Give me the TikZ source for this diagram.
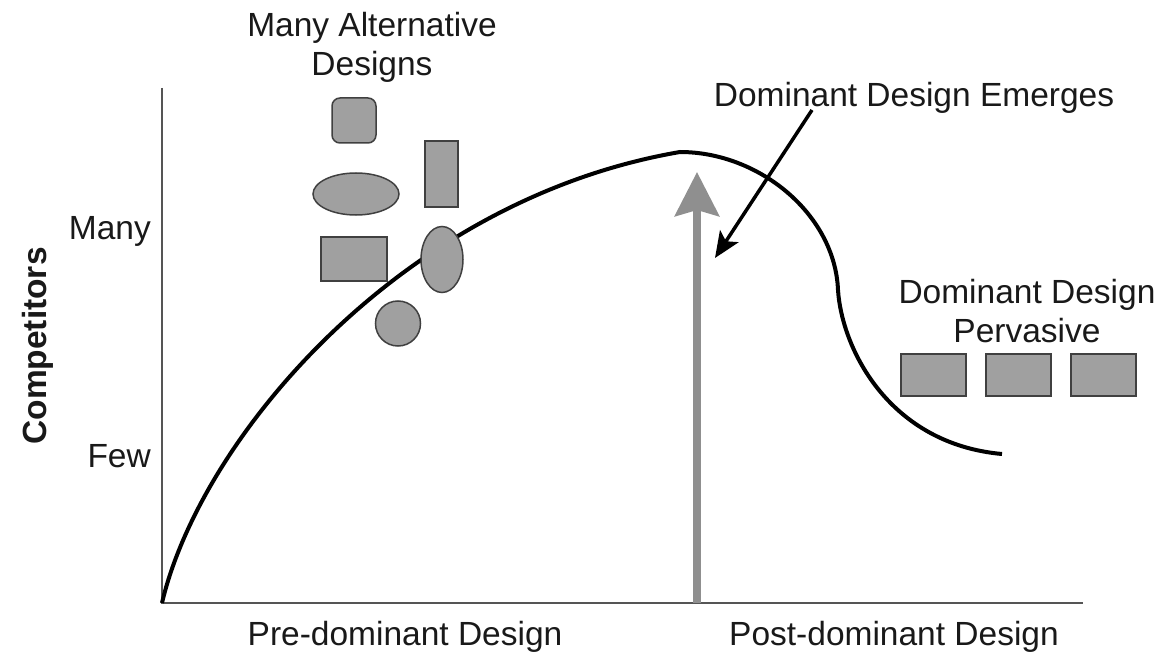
\documentclass[tikz,border=0pt]{standalone}
\usepackage{fontspec}
\setmainfont{Liberation Sans}
\usetikzlibrary{arrows.meta,shapes.geometric}
\definecolor{shapefill}{HTML}{A0A0A0}
\definecolor{shapeline}{HTML}{404040}
\definecolor{axisgray}{HTML}{555555}
\definecolor{arrowgray}{HTML}{8F8F8F}
\begin{document}
\begin{tikzpicture}[x=1pt,y=-1pt,
  lbl/.style={font=\fontsize{33.5}{39}\selectfont, inner sep=0pt, align=center, anchor=base, text=black!90},
  shp/.style={draw=shapeline, fill=shapefill, line width=1.5pt, inner sep=0pt},
  rbox/.style={shp, rectangle, minimum width=#1},
  axisline/.style={draw=axisgray, line width=2.2pt},
  curveline/.style={draw=black, line width=4pt},
]
\useasboundingbox (0,0) rectangle (1163,658);
% axes
\coordinate (O) at (162,603);
\coordinate (ytop) at (162,88);
\coordinate (xend) at (1083,603);
\draw[axisline] (ytop) -- (O) -- (xend);
% curve
\coordinate (peak) at (680,152);
\coordinate (infl) at (838,290);
\coordinate (cend) at (1002,454);
\draw[curveline] (O) .. controls (200,440) and (400,200) .. (peak)
  .. controls (760,152) and (835,215) .. (infl)
  .. controls (842,350) and (890,444) .. (cend);
% gray arrow
\coordinate (gbot) at (697,603);
\coordinate (gtop) at (697,172);
\draw[arrowgray, line width=8pt, -{Stealth[length=44pt,width=44pt,inset=6pt]}] (gbot) -- (gtop);
% black arrow
\coordinate (bstart) at (812,110);
\coordinate (btip) at (715,258);
\draw[black, line width=3.5pt, -{Stealth[length=26pt,width=22pt,inset=6pt]}] (bstart) -- (btip);
% alternative designs
\node[shp, rectangle, rounded corners=8pt, minimum width=44pt, minimum height=45pt] (s1) at (354,120.5) {};
\node[shp, ellipse, minimum width=86pt, minimum height=42pt] (s2) at (356,194) {};
\node[shp, rectangle, minimum width=33pt, minimum height=66pt] (s3) at (441.5,174) {};
\node[shp, rectangle, minimum width=66pt, minimum height=44pt] (s4) at (354,259) {};
\node[shp, ellipse, minimum width=42pt, minimum height=66pt] (s5) at (442,259.5) {};
\node[shp, circle, minimum size=45pt] (s6) at (398,323.5) {};
% pervasive designs
\node[rbox=65pt, minimum height=42pt] (p1) at (933.5,375) {};
\node[rbox=65pt, minimum height=42pt] (p2) at (1018.5,375) {};
\node[rbox=65pt, minimum height=42pt] (p3) at (1103.5,375) {};
% labels (base anchor = baseline of last line)
\node[lbl] (tmany) at (372,76) {Many Alternative\\Designs};
\node[lbl] (temerge) at (914,107) {Dominant Design Emerges};
\node[lbl] (tperv) at (1027,342) {Dominant Design\\Pervasive};
\node[lbl, anchor=base east] (ymany) at (151,240) {Many};
\node[lbl, anchor=base east] (yfew) at (151,467) {Few};
\node[lbl, font=\fontsize{33.5}{39}\selectfont\bfseries, rotate=90] (ylab) at (46,346) {Competitors};
\node[lbl] (xpre) at (405,645) {Pre-dominant Design};
\node[lbl] (xpost) at (894,645) {Post-dominant Design};
\end{tikzpicture}
\end{document}
